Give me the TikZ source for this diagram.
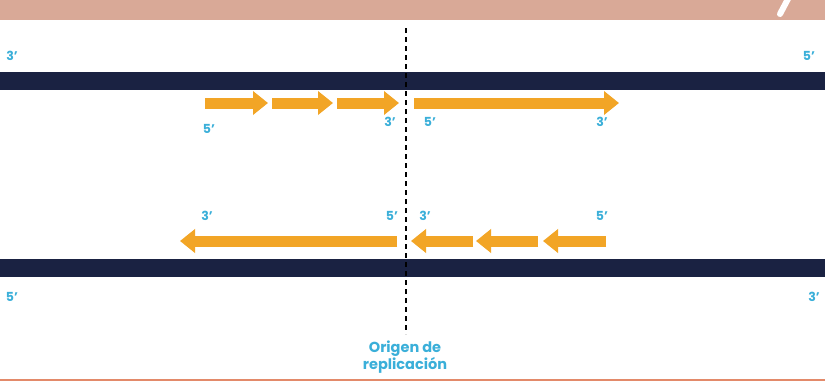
\documentclass[tikz,border=0pt]{standalone}
\usepackage{fontspec}
\setmainfont{Poppins}
\usetikzlibrary{arrows.meta}
\definecolor{band}{HTML}{D9A997}
\definecolor{strand}{HTML}{1A2242}
\definecolor{prim}{HTML}{F2A526}
\definecolor{lbl}{HTML}{3AAFD9}
\definecolor{edge}{HTML}{E38A6A}
\tikzset{
  frag/.style={draw=prim, line width=11pt, -{Triangle[width=23pt,length=15pt]}},
  end/.style={text=lbl, font=\fontsize{12.5}{12}\selectfont\bfseries, inner sep=0pt},
}
\begin{document}
\begin{tikzpicture}[x=1pt,y=-1pt]
\useasboundingbox (0,0) rectangle (825,381);
\fill[white] (0,0) rectangle (825,381);
% top band
\fill[band] (0,0) rectangle (825,20);
\draw[white, line width=6pt, line cap=round] (789,-3) -- (780,14);
\fill[edge] (0,378.5) rectangle (825,381);
% strands
\fill[strand] (0,72) rectangle (825,90);
\fill[strand] (0,259) rectangle (825,277);
% origin dashed line
\coordinate (o1) at (406,28);
\coordinate (o2) at (406,334);
\draw[black, line width=1.8pt, dash pattern=on 5pt off 4pt] (o1) -- (o2);
% top fragments
\coordinate (a1s) at (205,103); \coordinate (a1e) at (268,103);
\coordinate (a2s) at (272,103); \coordinate (a2e) at (333,103);
\coordinate (a3s) at (337,103); \coordinate (a3e) at (399,103);
\coordinate (a4s) at (414,103); \coordinate (a4e) at (619,103);
\draw[frag] (a1s) -- (a1e);
\draw[frag] (a2s) -- (a2e);
\draw[frag] (a3s) -- (a3e);
\draw[frag] (a4s) -- (a4e);
% bottom fragments
\coordinate (b1s) at (397,241); \coordinate (b1e) at (180,241);
\coordinate (b2s) at (473,241); \coordinate (b2e) at (411,241);
\coordinate (b3s) at (538,241); \coordinate (b3e) at (476,241);
\coordinate (b4s) at (606,241); \coordinate (b4e) at (543,241);
\draw[frag] (b1s) -- (b1e);
\draw[frag] (b2s) -- (b2e);
\draw[frag] (b3s) -- (b3e);
\draw[frag] (b4s) -- (b4e);
% labels
\node[end] (c1) at (12,56) {3'};
\node[end] (c2) at (809,56) {5'};
\node[end] (c3) at (12,297) {5'};
\node[end] (c4) at (814,297) {3'};
\node[end] (t1) at (209,129) {5'};
\node[end] (t2) at (390,122) {3'};
\node[end] (t3) at (430,122) {5'};
\node[end] (t4) at (602,122) {3'};
\node[end] (u1) at (207,216) {3'};
\node[end] (u2) at (392,216) {5'};
\node[end] (u3) at (425,216) {3'};
\node[end] (u4) at (602,216) {5'};
\node[text=lbl, font=\fontsize{14.5}{11.5}\selectfont\bfseries, align=center, inner sep=0pt] (ori) at (405,357) {Origen de\\replicación};
\end{tikzpicture}
\end{document}
